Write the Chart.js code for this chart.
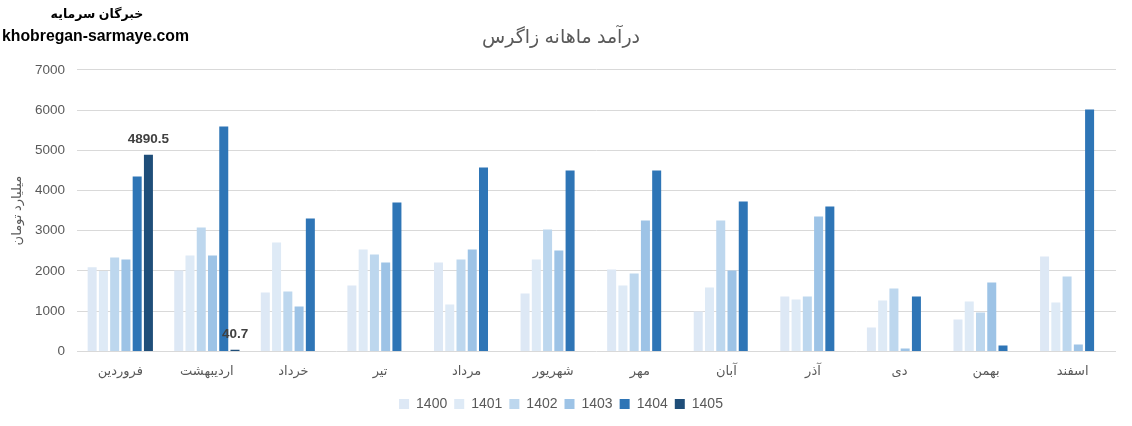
<!DOCTYPE html>
<html>
<head>
<meta charset="utf-8">
<script src="https://cdn.jsdelivr.net/npm/chart.js@4.4.0/dist/chart.umd.min.js"></script>
<style>
  html, body { margin: 0; padding: 0; background: #fff; }
  #wrap { position: relative; width: 1132px; height: 426px; }
  #brand1, #brand2 {
    position: absolute; font-weight: bold; color: #000;
    font-family: "Liberation Sans", "DejaVu Sans", sans-serif; white-space: nowrap;
  }
  #brand1 { left: 47px; top: 6px; font-size: 12.5px; direction: rtl; width: 100px; text-align: center; }
  #brand2 { left: 2px; top: 27px; font-size: 15.8px; }
</style>
</head>
<body>
<div id="wrap">
  <canvas id="chart" width="1132" height="426"></canvas>
  <div id="brand1">خبرگان سرمایه</div>
  <div id="brand2">khobregan-sarmaye.com</div>
</div>
<script>
const months = ["فروردین", "اردیبهشت", "خرداد", "تیر", "مرداد", "شهریور", "مهر", "آبان", "آذر", "دی", "بهمن", "اسفند"];
const years = ["1400", "1401", "1402", "1403", "1404", "1405"];

const y1400 = [2090, 2010, 1466, 1640, 2212, 1442, 2038, 994, 1367, 597, 795, 2361];
const y1401 = [2000, 2386, 2709, 2535, 1168, 2287, 1640, 1591, 1292, 1268, 1243, 1218];
const y1402 = [2336, 3082, 1491, 2411, 2287, 3032, 1939, 3256, 1367, 1566, 969, 1864];
const y1403 = [2287, 2386, 1118, 2212, 2535, 2510, 3256, 2013, 3355, 75, 1715, 174];
const y1404 = [4350, 5592, 3306, 3703, 4573, 4499, 4499, 3728, 3604, 1367, 149, 6015];
const y1405 = [4890.5, 40.7, null, null, null, null, null, null, null, null, null, null];

const colors = ["#dde8f5", "#deeaf6", "#bdd7ee", "#9dc3e6", "#2e75b6", "#1f4e79"];
const series = [y1400, y1401, y1402, y1403, y1404, y1405];

const fontFam = "'Liberation Sans', 'DejaVu Sans', sans-serif";

// labels on the 1405 bars
const valueLabels = {
  id: "valueLabels",
  afterDatasetsDraw(chart) {
    const ctx = chart.ctx;
    const meta = chart.getDatasetMeta(5);
    ctx.save();
    ctx.font = "bold 13.5px " + fontFam;
    ctx.fillStyle = "#404040";
    ctx.textAlign = "center";
    ctx.textBaseline = "bottom";
    meta.data.forEach((bar, i) => {
      const v = y1405[i];
      if (v === null) return;
      ctx.fillText(String(v), bar.x, bar.y - 9);
    });
    ctx.restore();
  }
};

new Chart(document.getElementById("chart"), {
  type: "bar",
  data: {
    labels: months,
    datasets: years.map((y, i) => ({
      label: y,
      data: series[i],
      backgroundColor: colors[i],
      categoryPercentage: 0.78,
      barPercentage: 0.8
    }))
  },
  options: {
    responsive: false,
    animation: false,
    layout: { padding: { left: 6, right: 16, top: 12, bottom: 5 } },
    plugins: {
      title: {
        display: true,
        text: "درآمد ماهانه زاگرس",
        color: "#595959",
        font: { family: fontFam, size: 19, weight: "normal" },
        padding: { top: 14, bottom: 21 }
      },
      legend: {
        position: "bottom",
        labels: {
          color: "#595959",
          font: { family: fontFam, size: 14 },
          boxWidth: 10,
          boxHeight: 10,
          padding: 7
        }
      },
      tooltip: { enabled: false }
    },
    scales: {
      x: {
        grid: { display: false },
        border: { display: false },
        ticks: { color: "#595959", font: { family: fontFam, size: 13 }, padding: 4 },
        afterFit(scale) { scale.height += 7; }
      },
      y: {
        min: 0,
        max: 7000,
        ticks: {
          stepSize: 1000, color: "#595959", font: { family: fontFam, size: 13.5 }, padding: 12,
          callback: v => String(v)
        },
        grid: { color: "#d9d9d9", drawTicks: false },
        border: { display: false },
        title: {
          display: true,
          text: "میلیارد تومان",
          color: "#595959",
          font: { family: fontFam, size: 13 },
          padding: { top: 4, bottom: 9 }
        },
        afterFit(scale) { scale.width = 71; }
      }
    }
  },
  plugins: [valueLabels]
});
</script>
</body>
</html>
